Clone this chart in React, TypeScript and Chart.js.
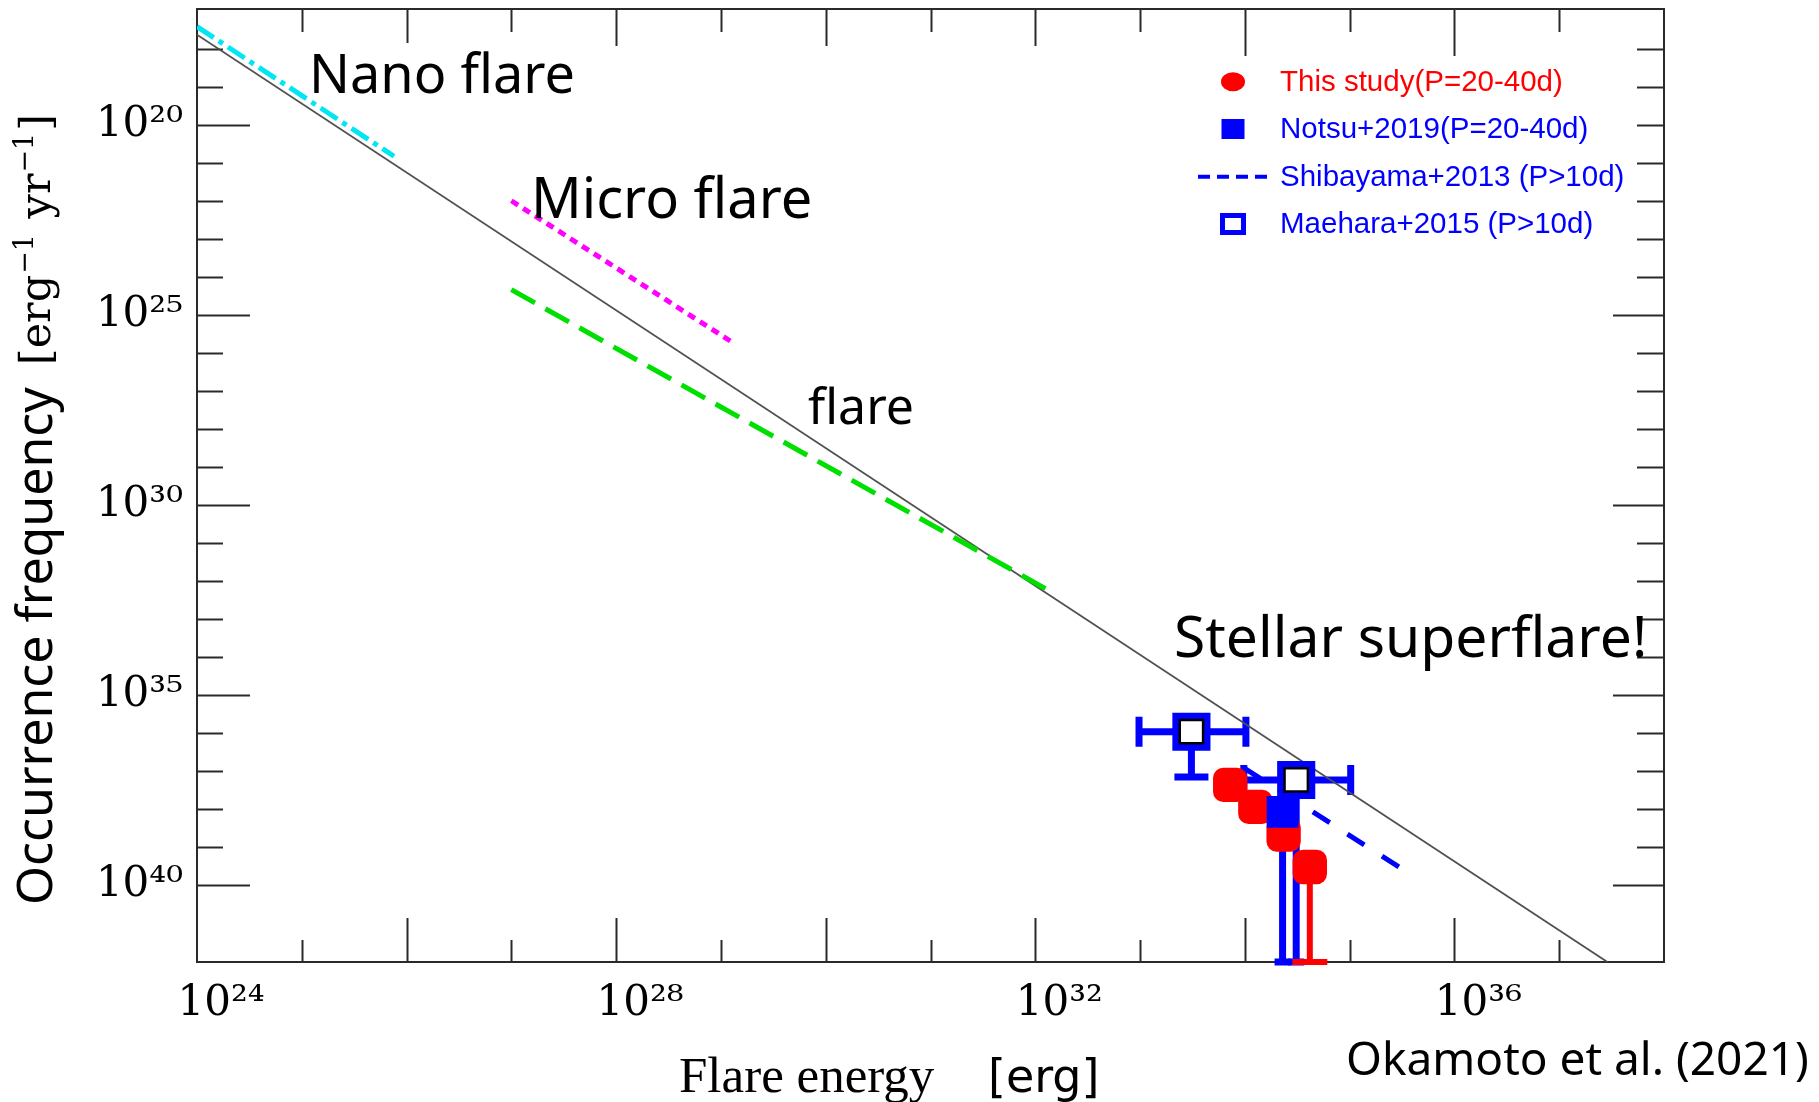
import React, { useEffect, useRef } from 'react';
import { Chart, registerables } from 'chart.js';

Chart.register(...registerables);

// ---------- axes (values are decimal exponents) ----------
const X_MIN = 24;
const X_MAX = 38;
const Y_MIN = 16.955;
const Y_MAX = 42.03;
const X_TICKS = [24, 25, 26, 27, 28, 29, 30, 31, 32, 33, 34, 35, 36, 37, 38];
const X_LABELED = [24, 28, 32, 36];
const Y_TICKS = [18, 19, 20, 21, 22, 23, 24, 25, 26, 27, 28, 29, 30, 31, 32, 33, 34, 35, 36, 37, 38, 39, 40];
const Y_LABELED = [20, 25, 30, 35, 40];

// ---------- reference lines ----------
const POWER_LAW_E = [24, 37.46];
const POWER_LAW_F = [17.63, 42.03];
const NANO_E = [24, 25.88];
const NANO_F = [17.42, 20.83];
const MICRO_E = [27.0, 29.1];
const MICRO_F = [22.0, 25.71];
const SOLAR_E = [27.0, 32.1];
const SOLAR_F = [24.34, 32.21];
const SHIBAYAMA_E = [33.99, 35.59];
const SHIBAYAMA_F = [36.92, 39.74];

// ---------- data points ----------
const THIS_STUDY_E = [33.86, 34.1, 34.37, 34.62];
const THIS_STUDY_F = [37.37, 37.95, 38.68, 39.53];
const THIS_STUDY_F_DOWN: (number | null)[] = [null, null, null, 42.03];

const NOTSU_E = [34.36];
const NOTSU_F = [38.08];
const NOTSU_F_DOWN: (number | null)[] = [42.03];

const MAEHARA_E = [33.49, 34.49];
const MAEHARA_F = [35.97, 37.24];
const MAEHARA_E_LO = [32.99, 33.99];
const MAEHARA_E_HI = [34.01, 35.01];
const MAEHARA_F_DOWN: (number | null)[] = [37.16, 42.03];

const LEGEND_LABELS = [
  'This study(P=20-40d)',
  'Notsu+2019(P=20-40d)',
  'Shibayama+2013 (P>10d)',
  'Maehara+2015 (P>10d)',
];

const RED = '#ff0000';
const BLUE = '#0000ff';
const FRAME = '#2a2a2a';

const SUP: Record<string, string> = {
  '0': '\u2070', '1': '\u00b9', '2': '\u00b2', '3': '\u00b3', '4': '\u2074',
  '5': '\u2075', '6': '\u2076', '7': '\u2077', '8': '\u2078', '9': '\u2079',
};
const pow10 = (n: number) => '10' + String(n).split('').map((c) => SUP[c] ?? c).join('');

const pts = (xs: number[], ys: number[]) => xs.map((x, i) => ({ x, y: ys[i] }));

// ---------- plugins ----------
const frameTicksPlugin = {
  id: 'frameTicks',
  beforeDatasetsDraw(chart: any) {
    const { ctx, chartArea: a, scales } = chart;
    const xs = scales.x;
    const ys = scales.y;
    ctx.save();
    ctx.strokeStyle = FRAME;
    ctx.lineWidth = 2;
    ctx.beginPath();
    for (const v of X_TICKS) {
      if (v <= X_MIN || v >= X_MAX) continue;
      const px = Math.round(xs.getPixelForValue(v)) + 0.5;
      const major = v % 2 === 0;
      const topLen = major ? (v >= 34 ? 47 : v === 26 ? 34 : 37) : 23;
      const botLen = major ? 44 : 22;
      ctx.moveTo(px, a.top);
      ctx.lineTo(px, a.top + topLen);
      ctx.moveTo(px, a.bottom);
      ctx.lineTo(px, a.bottom - botLen);
    }
    for (const v of Y_TICKS) {
      const py = Math.round(ys.getPixelForValue(v)) + 0.5;
      const major = v % 5 === 0;
      const leftLen = major ? 53 : 26;
      const rightLen = major && v !== 20 ? 51 : 27;
      ctx.moveTo(a.left, py);
      ctx.lineTo(a.left + leftLen, py);
      ctx.moveTo(a.right, py);
      ctx.lineTo(a.right - rightLen, py);
    }
    ctx.stroke();
    ctx.strokeRect(a.left, a.top, a.right - a.left, a.bottom - a.top);
    ctx.restore();
  },
};

type ErrSet = {
  e: number[];
  f: number[];
  eLo?: number[];
  eHi?: number[];
  fDown?: (number | null)[];
  color: string;
  width: number;
  capH: number;
  capW: number[];
};

const ERROR_SETS: ErrSet[] = [
  { e: MAEHARA_E, f: MAEHARA_F, eLo: MAEHARA_E_LO, eHi: MAEHARA_E_HI, fDown: MAEHARA_F_DOWN, color: BLUE, width: 7, capH: 30, capW: [34, 16] },
  { e: NOTSU_E, f: NOTSU_F, fDown: NOTSU_F_DOWN, color: BLUE, width: 7, capH: 30, capW: [16] },
  { e: THIS_STUDY_E, f: THIS_STUDY_F, fDown: THIS_STUDY_F_DOWN, color: RED, width: 6, capH: 30, capW: [0, 0, 0, 35] },
];

const errorBarPlugin = {
  id: 'errorBars',
  beforeDatasetsDraw(chart: any) {
    const { ctx, scales } = chart;
    const xs = scales.x;
    const ys = scales.y;
    ctx.save();
    ctx.lineCap = 'butt';
    for (const s of ERROR_SETS) {
      ctx.strokeStyle = s.color;
      ctx.lineWidth = s.width;
      s.e.forEach((ev, i) => {
        const px = xs.getPixelForValue(ev);
        const py = ys.getPixelForValue(s.f[i]);
        ctx.beginPath();
        if (s.eLo && s.eHi) {
          const x0 = xs.getPixelForValue(s.eLo[i]);
          const x1 = xs.getPixelForValue(s.eHi[i]);
          ctx.moveTo(x0, py);
          ctx.lineTo(x1, py);
          ctx.moveTo(x0, py - s.capH / 2);
          ctx.lineTo(x0, py + s.capH / 2);
          ctx.moveTo(x1, py - s.capH / 2);
          ctx.lineTo(x1, py + s.capH / 2);
        }
        const d = s.fDown ? s.fDown[i] : null;
        if (d != null) {
          const yd = ys.getPixelForValue(d);
          ctx.moveTo(px, py);
          ctx.lineTo(px, yd);
          const cw = s.capW[i] || 0;
          if (cw > 0) {
            ctx.moveTo(px - cw / 2, yd);
            ctx.lineTo(px + cw / 2, yd);
          }
        }
        ctx.stroke();
      });
    }
    ctx.restore();
  },
};

const legendPlugin = {
  id: 'customLegend',
  afterDraw(chart: any) {
    const { ctx } = chart;
    const rows = [81.7, 129, 176.7, 224];
    const mx = 1233;
    const tx = 1280;
    ctx.save();
    ctx.fillStyle = RED;
    ctx.beginPath();
    ctx.ellipse(mx, rows[0], 12, 9.5, 0, 0, Math.PI * 2);
    ctx.fill();
    ctx.fillStyle = BLUE;
    ctx.fillRect(mx - 11.5, rows[1] - 10, 23, 20);
    ctx.strokeStyle = BLUE;
    ctx.lineWidth = 4;
    ctx.setLineDash([12, 7]);
    ctx.beginPath();
    ctx.moveTo(1198, rows[2]);
    ctx.lineTo(1268, rows[2]);
    ctx.stroke();
    ctx.setLineDash([]);
    ctx.lineWidth = 5;
    ctx.strokeRect(mx - 10.5, rows[3] - 8.5, 21, 17);
    ctx.font = '29.5px "Liberation Sans", Arial, sans-serif';
    ctx.textBaseline = 'middle';
    ctx.textAlign = 'left';
    LEGEND_LABELS.forEach((t, i) => {
      ctx.fillStyle = i === 0 ? RED : BLUE;
      ctx.fillText(t, tx, rows[i] + 1);
    });
    ctx.restore();
  },
};

const textPlugin = {
  id: 'annotTexts',
  afterDraw(chart: any) {
    const { ctx } = chart;
    ctx.save();
    ctx.fillStyle = '#000';
    ctx.textAlign = 'left';
    ctx.textBaseline = 'alphabetic';
    ctx.font = '54px "Noto Sans", sans-serif';
    ctx.fillText('Nano flare', 309, 93);
    ctx.font = '56px "Noto Sans", sans-serif';
    ctx.fillText('Micro flare', 531, 218);
    ctx.font = '50px "Noto Sans", sans-serif';
    ctx.fillText('flare', 808, 424);
    ctx.font = '57px "Noto Sans", sans-serif';
    ctx.fillText('Stellar superflare!', 1174, 657);
    ctx.font = '46px "Noto Sans", sans-serif';
    ctx.fillText('Okamoto et al. (2021)', 1346, 1075);

    // x-axis title
    ctx.font = '51px "Liberation Serif", serif';
    ctx.fillText('Flare energy', 679, 1092);
    ctx.font = '46px "DejaVu Sans", sans-serif';
    ctx.fillText('[erg]', 988, 1092);

    // y-axis title (rotated)
    ctx.translate(52, 905);
    ctx.rotate(-Math.PI / 2);
    ctx.font = '50px "Noto Sans", sans-serif';
    ctx.fillText('Occurrence frequency', 0, 0);
    let p = ctx.measureText('Occurrence frequency').width + 22;
    const big = '43px "DejaVu Serif", serif';
    const small = '27px "DejaVu Serif", serif';
    const parts: [string, boolean][] = [['[erg', false], ['\u22121', true], [' yr', false], ['\u22121', true], [']', false]];
    for (const [t, sup] of parts) {
      ctx.font = sup ? small : big;
      ctx.fillText(t, p, sup ? -19 : -2);
      p += ctx.measureText(t).width + (sup ? 2 : 1);
    }
    ctx.restore();
  },
};

export default function App() {
  const ref = useRef<HTMLCanvasElement | null>(null);

  useEffect(() => {
    if (!ref.current) return;
    const chart = new Chart(ref.current, {
      type: 'scatter',
      data: {
        datasets: [
          {
            label: 'Maehara inner',
            data: pts(MAEHARA_E, MAEHARA_F),
            pointStyle: 'rect',
            pointRadius: 16.5,
            pointHoverRadius: 16.5,
            backgroundColor: 'rgba(0,0,0,0)',
            borderColor: '#000',
            pointBorderWidth: 2.5,
            showLine: false,
            order: 0,
          },
          {
            label: LEGEND_LABELS[3],
            data: pts(MAEHARA_E, MAEHARA_F),
            pointStyle: 'rect',
            pointRadius: 22,
            pointHoverRadius: 22,
            backgroundColor: '#ffffff',
            borderColor: BLUE,
            pointBorderWidth: 7,
            showLine: false,
            order: 1,
          },
          {
            label: LEGEND_LABELS[1],
            data: pts(NOTSU_E, NOTSU_F),
            pointStyle: 'rect',
            pointRadius: 22.5,
            pointHoverRadius: 22.5,
            backgroundColor: BLUE,
            borderColor: BLUE,
            pointBorderWidth: 0,
            showLine: false,
            order: 2,
          },
          {
            label: LEGEND_LABELS[0],
            data: pts(THIS_STUDY_E, THIS_STUDY_F),
            pointStyle: 'rectRounded',
            pointRadius: 20,
            pointHoverRadius: 20,
            backgroundColor: RED,
            borderColor: RED,
            pointBorderWidth: 0,
            showLine: false,
            order: 3,
          },
          {
            label: LEGEND_LABELS[2],
            data: pts(SHIBAYAMA_E, SHIBAYAMA_F),
            showLine: true,
            borderColor: BLUE,
            borderWidth: 5,
            borderDash: [20, 21],
            pointRadius: 0,
            order: 4,
          },
          {
            label: 'solar flare',
            data: pts(SOLAR_E, SOLAR_F),
            showLine: true,
            borderColor: '#00e000',
            borderWidth: 5,
            borderDash: [27, 12],
            pointRadius: 0,
            order: 5,
          },
          {
            label: 'micro flare',
            data: pts(MICRO_E, MICRO_F),
            showLine: true,
            borderColor: '#ff00ff',
            borderWidth: 5,
            borderDash: [8, 6],
            pointRadius: 0,
            order: 6,
          },
          {
            label: 'nano flare',
            data: pts(NANO_E, NANO_F),
            showLine: true,
            borderColor: '#00e6f2',
            borderWidth: 5,
            borderDash: [20, 6, 5, 6],
            pointRadius: 0,
            order: 7,
          },
          {
            label: 'power law',
            data: pts(POWER_LAW_E, POWER_LAW_F),
            showLine: true,
            borderColor: '#505050',
            borderWidth: 1.8,
            pointRadius: 0,
            order: 8,
          },
        ],
      },
      options: {
        responsive: false,
        maintainAspectRatio: false,
        animation: false,
        devicePixelRatio: 1,
        layout: { autoPadding: false, padding: { top: 9, right: 155, left: 0, bottom: 0 } },
        plugins: {
          legend: { display: false },
          tooltip: { enabled: false },
        },
        scales: {
          x: {
            type: 'linear',
            min: X_MIN,
            max: X_MAX,
            grid: { display: false, drawTicks: false },
            border: { display: false },
            afterBuildTicks: (axis: any) => {
              axis.ticks = X_LABELED.map((v) => ({ value: v }));
            },
            afterFit: (axis: any) => {
              axis.height = 140;
              axis.paddingLeft = 0;
              axis.paddingRight = 0;
            },
            ticks: {
              autoSkip: false,
              maxRotation: 0,
              minRotation: 0,
              padding: 17,
              labelOffset: 24,
              color: '#000',
              font: { family: '"DejaVu Serif", serif', size: 42 },
              callback: (v: any) => pow10(Number(v)),
            },
          },
          y: {
            type: 'linear',
            reverse: true,
            min: Y_MIN,
            max: Y_MAX,
            grid: { display: false, drawTicks: false },
            border: { display: false },
            afterBuildTicks: (axis: any) => {
              axis.ticks = Y_LABELED.map((v) => ({ value: v }));
            },
            afterFit: (axis: any) => {
              axis.width = 197;
              axis.paddingTop = 0;
              axis.paddingBottom = 0;
            },
            ticks: {
              autoSkip: false,
              padding: 14,
              color: '#000',
              font: { family: '"DejaVu Serif", serif', size: 42 },
              callback: (v: any) => pow10(Number(v)),
            },
          },
        },
      },
      plugins: [frameTicksPlugin, errorBarPlugin, legendPlugin, textPlugin],
    } as any);
    return () => chart.destroy();
  }, []);

  return (
    <div style={{ position: 'fixed', left: 0, top: 0, width: 1819, height: 1102, background: '#fff' }}>
      <canvas ref={ref} width={1819} height={1102} style={{ width: 1819, height: 1102, display: 'block' }} />
    </div>
  );
}
